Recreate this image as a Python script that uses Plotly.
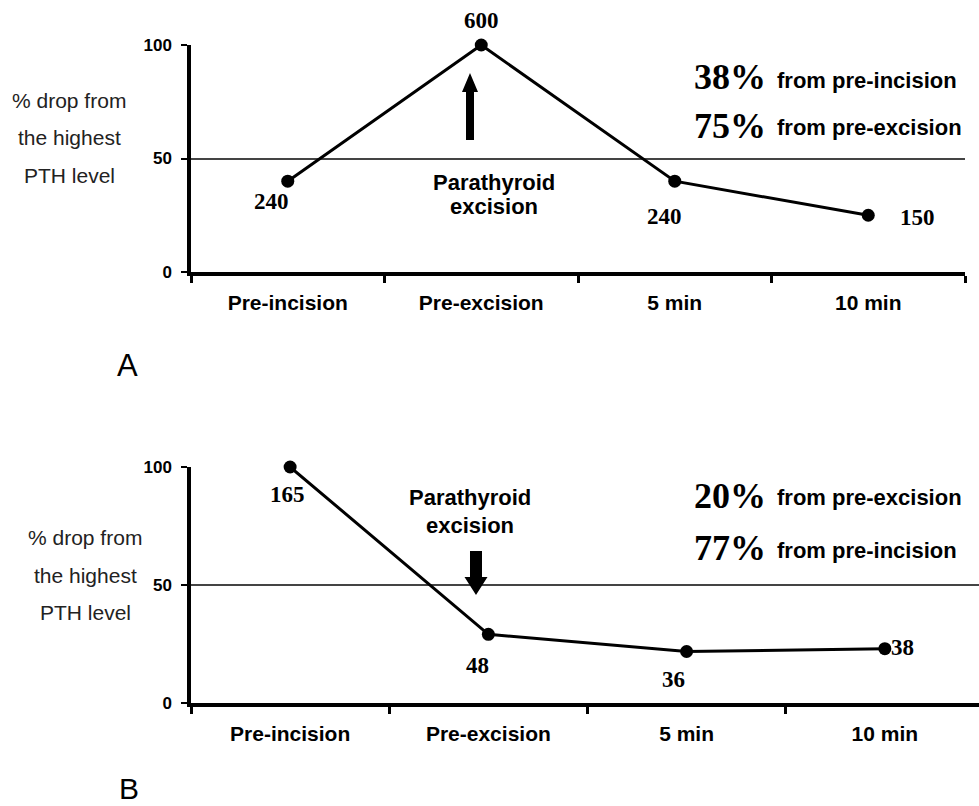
import plotly.graph_objects as go

# Sampling times (shared by both cases)
times = ["Pre-incision", "Pre-excision", "5 min", "10 min"]

# Intra-operative PTH levels for case A and case B
pth_a = [240, 600, 240, 150]
pth_b = [165, 48, 36, 38]

# Summary drops written on each panel
drops_a = [("38%", "from pre-incision"), ("75%", "from pre-excision")]
drops_b = [("20%", "from pre-excision"), ("77%", "from pre-incision")]

W, H = 979, 806
SANS = "Liberation Sans, Arial, sans-serif"
SERIF = "Liberation Serif, Times New Roman, serif"


def pct_of_max(vals):
    top = max(vals)
    return [v / top * 100 for v in vals]


def px(x):
    return x / W


def py(y):
    return 1 - y / H


def arrow_path(cx, tail, tip, shaft, head_w, head_len):
    s = 1 if tip > tail else -1
    base = tip - s * head_len
    pts = [(cx - shaft / 2, tail), (cx - shaft / 2, base), (cx - head_w / 2, base),
           (cx, tip), (cx + head_w / 2, base), (cx + shaft / 2, base),
           (cx + shaft / 2, tail)]
    return "M" + " L".join(f"{px(x):.5f},{py(y):.5f}" for x, y in pts) + " Z"


fig = go.Figure()

pa = pct_of_max(pth_a)
pb = pct_of_max(pth_b)

line_style = dict(color="black", width=3)
marker_style = dict(color="black", size=13)

fig.add_trace(go.Scatter(x=times, y=pa, mode="lines+markers", line=line_style,
                         marker=marker_style, xaxis="x", yaxis="y", showlegend=False,
                         cliponaxis=False))
fig.add_trace(go.Scatter(x=times, y=pb, mode="lines+markers", line=line_style,
                         marker=marker_style, xaxis="x2", yaxis="y2", showlegend=False,
                         cliponaxis=False))

xa_common = dict(type="category", categoryorder="array", categoryarray=times,
                 tickson="boundaries", ticks="outside", ticklen=7, tickwidth=2.5,
                 tickcolor="black", showline=True, linewidth=3.5, linecolor="black",
                 showgrid=False, zeroline=False, ticklabelstandoff=9, automargin=False,
                 tickfont=dict(family=SANS, size=21, color="black", weight="bold"))
ya_common = dict(range=[0, 100], tickvals=[0, 50, 100], ticks="outside", ticklen=6,
                 tickwidth=2, tickcolor="black", showline=True, linewidth=3.5,
                 linecolor="black", showgrid=True, gridcolor="#444", gridwidth=1.5,
                 zeroline=False, ticklabelstandoff=6, automargin=False,
                 tickfont=dict(family=SANS, size=17, color="black", weight="bold"))

fig.update_layout(
    template="none",
    width=W, height=H, margin=dict(l=0, r=0, t=0, b=0, pad=0, autoexpand=False),
    paper_bgcolor="white", plot_bgcolor="white",
    xaxis=dict(domain=[px(191), px(965)], range=[-0.5, 3.5], anchor="y", **xa_common),
    yaxis=dict(domain=[py(272), py(45)], anchor="x", **ya_common),
    xaxis2=dict(domain=[px(191), 1.0], range=[-0.5, 3.475], anchor="y2", **xa_common),
    yaxis2=dict(domain=[py(703), py(467)], anchor="x2", **ya_common),
)

ann = []

# PTH value labels next to each point
label_shift_a = [(-16, -20), (0, 25), (-10, -35), (49, -2)]
label_shift_b = [(-3, -27), (-11, -31), (-13, -28), (18, 1)]
for xs, ys, vals, shifts, xr, yr in [(times, pa, pth_a, label_shift_a, "x", "y"),
                                     (times, pb, pth_b, label_shift_b, "x2", "y2")]:
    for t, y, v, (dx, dy) in zip(xs, ys, vals, shifts):
        ann.append(dict(x=t, y=y, xref=xr, yref=yr, text=f"<b>{v}</b>", showarrow=False,
                        xshift=dx, yshift=dy,
                        font=dict(family=SERIF, size=23, color="black")))

# y-axis title, three lines per panel
for cx, ys in [(69, [100, 138, 175]), (85, [537, 575, 612])]:
    for txt, y in zip(["% drop from", "the highest", "PTH level"], ys):
        ann.append(dict(x=px(cx), y=py(y), xref="paper", yref="paper", text=txt,
                        showarrow=False, xanchor="center", yanchor="middle",
                        font=dict(family=SANS, size=21, color="#222")))

# Percent-drop summaries
for drops, ys in [(drops_a, [(77, 80), (126, 128)]), (drops_b, [(496, 497), (548, 550)])]:
    for (big, small), (yb, yt) in zip(drops, ys):
        ann.append(dict(x=px(768), y=py(yb), xref="paper", yref="paper",
                        text=f"<b>{big}</b>", showarrow=False, xanchor="right",
                        yanchor="middle", font=dict(family=SERIF, size=36, color="black")))
        ann.append(dict(x=px(775), y=py(yt), xref="paper", yref="paper",
                        text=f"<b>{small}</b>", showarrow=False, xanchor="left",
                        yanchor="middle", font=dict(family=SANS, size=22, color="black")))

# Excision markers
for cx, y1, y2 in [(494, 183, 207), (470, 498, 525)]:
    for txt, y in [("Parathyroid", y1), ("excision", y2)]:
        ann.append(dict(x=px(cx), y=py(y), xref="paper", yref="paper",
                        text=f"<b>{txt}</b>", showarrow=False, xanchor="center",
                        yanchor="middle", font=dict(family=SANS, size=22, color="black")))

# Panel letters
ann.append(dict(x=px(127), y=py(365), xref="paper", yref="paper", text="A",
                showarrow=False, xanchor="center", yanchor="middle",
                font=dict(family=SANS, size=31, color="black")))
ann.append(dict(x=px(129), y=0, xref="paper", yref="paper", text="B",
                showarrow=False, xanchor="center", yanchor="bottom", borderpad=0,
                font=dict(family=SANS, size=30, color="black")))

fig.update_layout(annotations=ann)

shapes = [
    dict(type="path", xref="paper", yref="paper",
         path=arrow_path(470, 140, 73, 8, 16, 19), fillcolor="black", line=dict(width=0)),
    dict(type="path", xref="paper", yref="paper",
         path=arrow_path(476, 551, 595, 12, 23, 18), fillcolor="black", line=dict(width=0)),
]
fig.update_layout(shapes=shapes)

fig.write_html("out.html")
